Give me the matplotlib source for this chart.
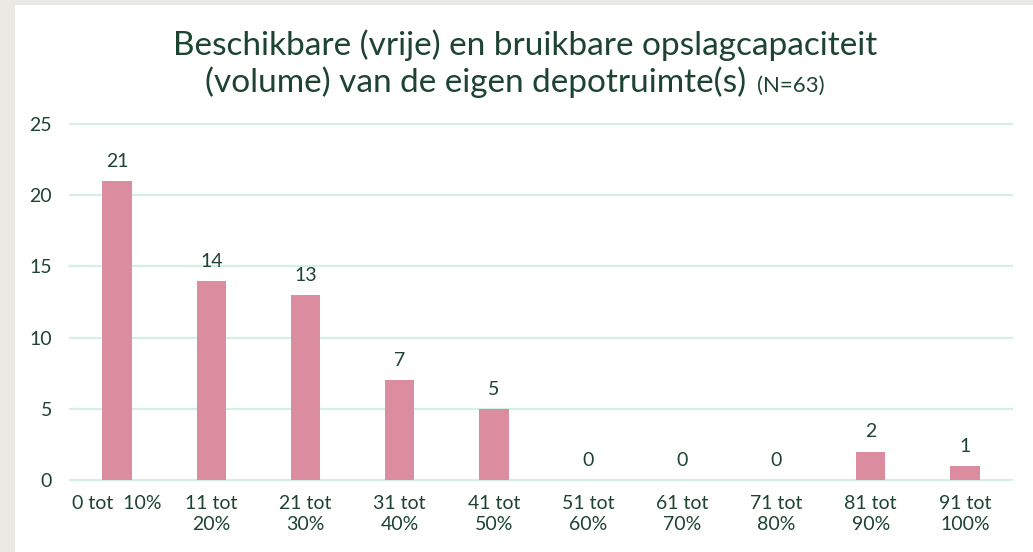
import matplotlib
matplotlib.use("Agg")
from matplotlib import pyplot as plt
from matplotlib.patches import Rectangle

# data
categories = ["0 tot  10%", "11 tot\n20%", "21 tot\n30%", "31 tot\n40%", "41 tot\n50%",
              "51 tot\n60%", "61 tot\n70%", "71 tot\n80%", "81 tot\n90%", "91 tot\n100%"]
counts = [21, 14, 13, 7, 5, 0, 0, 0, 2, 1]
yticks = [0, 5, 10, 15, 20, 25]

txt = "#1d4331"
bar_col = "#db8c9e"
grid_col = "#d3f1e3"
plt.rcParams['font.family'] = ['Lato', 'DejaVu Sans']

fig = plt.figure(figsize=(10.33, 5.52), dpi=100)
fig.patch.set_facecolor("#ebe9e4")
fig.patches.append(Rectangle((15 / 1033, 0), 1, 1 - 5 / 552, transform=fig.transFigure,
                             facecolor="white", edgecolor="none", zorder=-5))

ax = fig.add_axes([70 / 1033, 1 - 480 / 552, 942 / 1033, 356 / 552])
ax.set_facecolor("none")
x = range(len(categories))
bars = ax.bar(x, counts, width=0.31, color=bar_col, zorder=3)
ax.bar_label(bars, padding=8, color=txt, fontsize=14)

ax.set_xlim(-0.5, len(categories) - 0.5)
ax.set_ylim(0, 25)
ax.set_yticks(yticks)
ax.set_xticks(list(x))
ax.set_xticklabels(categories, linespacing=1.3)
ax.tick_params(axis='both', length=0, colors=txt, labelsize=14)
ax.tick_params(axis='x', pad=11)
ax.tick_params(axis='y', pad=13)
for s in ax.spines.values():
    s.set_visible(False)
for v in yticks:
    ax.axhline(v, color=grid_col, lw=1.6, zorder=1, clip_on=False)

# title
fig.text(525 / 1033, 1 - 45 / 552, "Beschikbare (vrije) en bruikbare opslagcapaciteit",
         ha='center', va='center', color=txt, fontsize=24)
t2 = fig.text(205 / 1033, 1 - 92 / 552, "(volume) van de eigen depotruimte(s)",
              ha='left', va='baseline', color=txt, fontsize=24)
fig.canvas.draw()
bb = t2.get_window_extent()
fig.text((bb.x1 + 11) / fig.bbox.width, 1 - 92 / 552, "(N=63)", ha='left', va='baseline',
         color=txt, fontsize=16)

fig.savefig("out.png", dpi=100, facecolor=fig.get_facecolor())
